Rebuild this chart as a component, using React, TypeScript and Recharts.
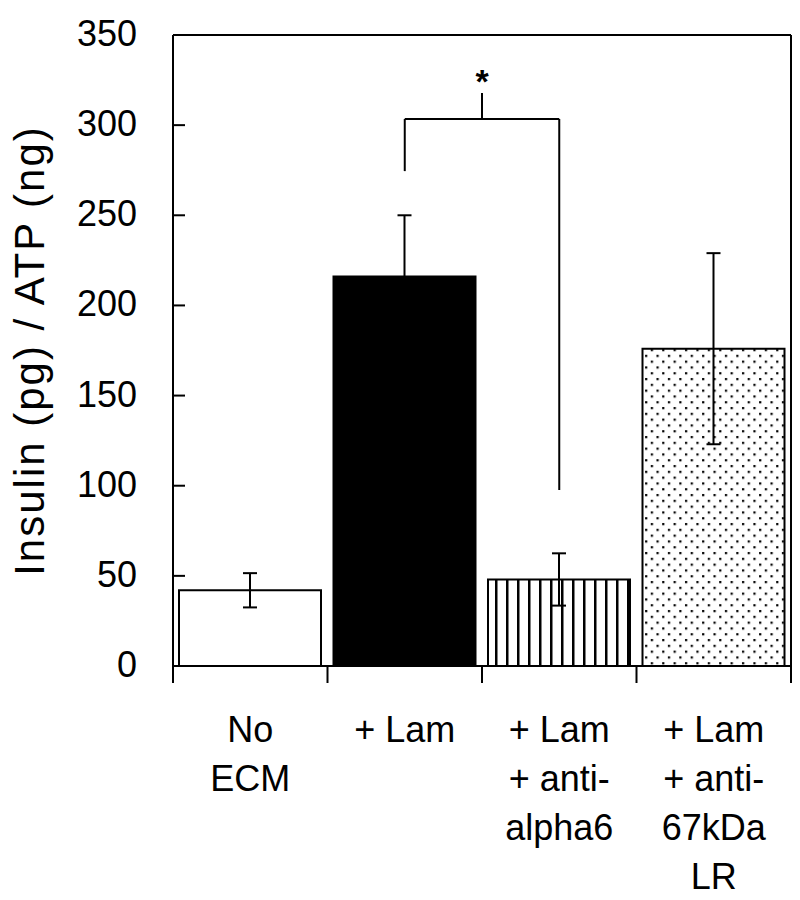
import React from "react";
import {
  BarChart,
  Bar,
  XAxis,
  YAxis,
  Cell,
  ErrorBar,
  ReferenceLine,
} from "recharts";

const categories = ["No ECM", "+ Lam", "+ Lam + anti-alpha6", "+ Lam + anti-67kDa LR"];
const labelLines = [["No", "ECM"], ["+ Lam"], ["+ Lam", "+ anti-", "alpha6"], ["+ Lam", "+ anti-", "67kDa", "LR"]];
const insulin = [42, 216, 48, 176];
const errors = [9.5, 34, 14.5, 53];
const fills = ["#ffffff", "#000000", "url(#stripes)", "url(#dots)"];
const yTicks = [0, 50, 100, 150, 200, 250, 300, 350];
const bracketY = 303.4;
const bracketLeftEnd = 274.5;
const bracketRightEnd = 97.6;

const data = categories.map((name, i) => ({ name, value: insulin[i], err: errors[i] }));

const W = 800;
const H = 900;
const LEFT = 173;
const RIGHT_AXIS_W = 1;
const RIGHT = 8;
const TOP_AXIS_H = 1;
const TOP = 34;
const BOTTOM = 234;
const PLOT_W = W - LEFT - RIGHT - RIGHT_AXIS_W;
const BAND_HALF = PLOT_W / categories.length / 2;
const FONT = "'Liberation Sans', Arial, sans-serif";
const TICK_MARGIN = 36;

const YTick = (props: any) => {
  const { x, y, payload } = props;
  const axisX = x + TICK_MARGIN;
  return (
    <g>
      <line x1={axisX} x2={axisX + 12} y1={y} y2={y} stroke="#000" strokeWidth={2} />
      <text x={x} y={y + 11} textAnchor="end" fontSize={36} fontFamily={FONT} fill="#000">
        {payload.value}
      </text>
    </g>
  );
};

const XTick = (props: any) => {
  const { x, y, index } = props;
  const lines = labelLines[index] || [];
  return (
    <g>
      <line x1={x - BAND_HALF} x2={x - BAND_HALF} y1={y} y2={y + 17} stroke="#000" strokeWidth={2} />
      {index === categories.length - 1 && (
        <line x1={x + BAND_HALF} x2={x + BAND_HALF} y1={y} y2={y + 17} stroke="#000" strokeWidth={2} />
      )}
      {lines.map((ln: string, k: number) => (
        <text key={k} x={x} y={y + 76 + k * 49} textAnchor="middle" fontSize={36} fontFamily={FONT} fill="#000">
          {ln}
        </text>
      ))}
    </g>
  );
};

const YTitle = (props: any) => {
  const vb = props.viewBox || { x: 0, y: TOP, width: LEFT, height: H - TOP - BOTTOM };
  const cx = vb.x + 29;
  const cy = vb.y + vb.height / 2;
  return (
    <text
      x={cx}
      y={cy}
      transform={`rotate(-90, ${cx}, ${cy})`}
      textAnchor="middle"
      dominantBaseline="central"
      fontSize={42}
      letterSpacing={2}
      fontFamily={FONT}
      fill="#000"
    >
      Insulin (pg) / ATP (ng)
    </text>
  );
};

const BracketMark = (props: any) => {
  const vb = props.viewBox;
  if (!vb) return null;
  const cx = vb.x + vb.width / 2;
  const y = vb.y;
  return (
    <g>
      <line x1={cx} x2={cx} y1={y} y2={y - 26} stroke="#000" strokeWidth={2} />
      <text x={cx} y={y - 26} textAnchor="middle" fontSize={34} fontWeight="bold" fontFamily={FONT} fill="#000">
        *
      </text>
    </g>
  );
};

export default function App() {
  return (
    <div style={{ position: "absolute", left: 0, top: 0, background: "#fff" }}>
      <BarChart
        width={W}
        height={H}
        data={data}
        margin={{ top: TOP, right: RIGHT, left: 0, bottom: 0 }}
        barSize={142}
      >
        <defs>
          <pattern id="stripes" patternUnits="userSpaceOnUse" width={11} height={10}>
            <rect x={0} y={0} width={11} height={10} fill="#fff" />
            <rect x={0} y={0} width={2.5} height={10} fill="#000" />
          </pattern>
          <pattern id="dots" patternUnits="userSpaceOnUse" width={11.4} height={11.6}>
            <rect x={0} y={0} width={11.4} height={11.6} fill="#fff" />
            <rect x={1} y={1} width={2.2} height={2.2} fill="#000" />
            <rect x={6.7} y={6.8} width={2.2} height={2.2} fill="#000" />
          </pattern>
        </defs>
        <XAxis
          xAxisId="main"
          dataKey="name"
          height={BOTTOM}
          interval={0}
          tickSize={0}
          tickMargin={0}
          tickLine={false}
          axisLine={{ stroke: "#000", strokeWidth: 2 }}
          tick={<XTick />}
        />
        <XAxis
          xAxisId="top"
          dataKey="name"
          orientation="top"
          height={TOP_AXIS_H}
          tick={false}
          tickLine={false}
          axisLine={{ stroke: "#000", strokeWidth: 2 }}
        />
        <YAxis
          yAxisId="main"
          width={LEFT}
          domain={[0, 350]}
          ticks={yTicks}
          interval={0}
          tickSize={0}
          tickMargin={TICK_MARGIN}
          tickLine={false}
          axisLine={{ stroke: "#000", strokeWidth: 2 }}
          tick={<YTick />}
          label={<YTitle />}
        />
        <YAxis
          yAxisId="right"
          orientation="right"
          width={RIGHT_AXIS_W}
          domain={[0, 350]}
          tick={false}
          tickLine={false}
          axisLine={{ stroke: "#000", strokeWidth: 2 }}
        />
        <Bar
          xAxisId="main"
          yAxisId="main"
          dataKey="value"
          stroke="#000"
          strokeWidth={2}
          isAnimationActive={false}
        >
          {data.map((d, i) => (
            <Cell key={d.name} fill={fills[i]} />
          ))}
          <ErrorBar dataKey="err" width={7} stroke="#000" strokeWidth={2} direction="y" />
        </Bar>
        <ReferenceLine
          xAxisId="main"
          yAxisId="main"
          y={350}
          stroke="#000"
          strokeWidth={2}
        />
        <ReferenceLine
          xAxisId="main"
          yAxisId="main"
          ifOverflow="visible"
          stroke="#000"
          strokeWidth={2}
          segment={[
            { x: categories[1], y: bracketY },
            { x: categories[2], y: bracketY },
          ]}
          label={(p: any) => <BracketMark {...p} />}
        />
        <ReferenceLine
          xAxisId="main"
          yAxisId="main"
          ifOverflow="visible"
          stroke="#000"
          strokeWidth={2}
          segment={[
            { x: categories[1], y: bracketY },
            { x: categories[1], y: bracketLeftEnd },
          ]}
        />
        <ReferenceLine
          xAxisId="main"
          yAxisId="main"
          ifOverflow="visible"
          stroke="#000"
          strokeWidth={2}
          segment={[
            { x: categories[2], y: bracketY },
            { x: categories[2], y: bracketRightEnd },
          ]}
        />
      </BarChart>
    </div>
  );
}
